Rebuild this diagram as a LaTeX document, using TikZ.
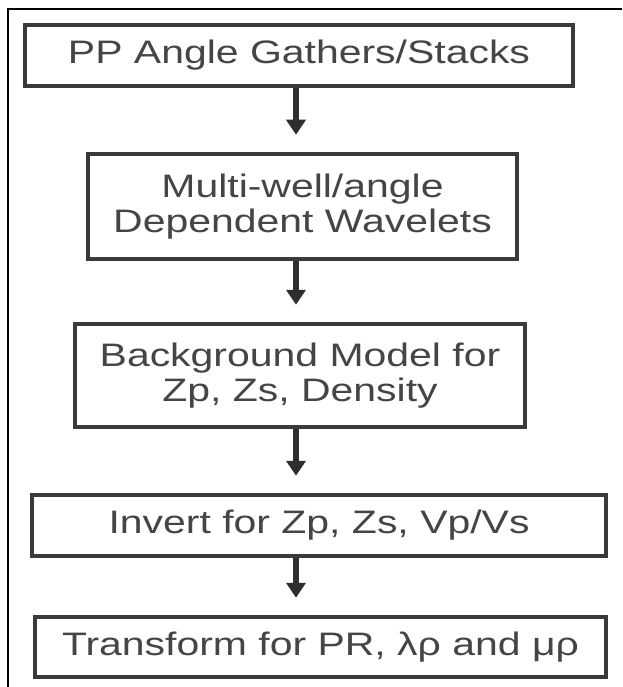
\documentclass[tikz,border=0pt]{standalone}
\usepackage{fontspec}
\setmainfont{Liberation Sans}[FakeStretch=1.26]
\usepackage{tikz}
\usetikzlibrary{arrows.meta,positioning}
\definecolor{boxgray}{HTML}{3A3A3A}
\definecolor{textgray}{HTML}{454545}

\begin{document}
\begin{tikzpicture}[
  x=1pt, y=-1pt,
  stage/.style={draw=boxgray, line width=4.5pt, fill=white, text=textgray, align=center,
    font=\fontsize{32.5}{35}\selectfont, inner sep=0pt},
  flow/.style={draw=boxgray!80!black, line width=6pt, -{Triangle[width=19pt,length=15pt]}, shorten >=17pt}
]
\useasboundingbox (0,0) rectangle (622,687);
% frame: only top and left edges show
\draw[line width=2.8pt] (8,687) |- (622,9);

% processing stages
\node[stage, minimum width=548pt, minimum height=61pt] (gathers) at (299,55.5) {PP Angle Gathers/Stacks};
\node[stage, minimum width=429pt, minimum height=105pt] (wavelets) at (302.5,206.5) {Multi-well/angle\\Dependent Wavelets};
\node[stage, minimum width=450pt, minimum height=103pt] (model) at (300,375.5) {Background Model for\\Zp, Zs, Density};
\node[stage, minimum width=574pt, minimum height=61pt] (invert) at (319,525.5) {Invert for Zp, Zs, Vp/Vs};
\node[stage, minimum width=571pt, minimum height=60pt] (transform) at (320.5,647) {Transform for PR, λρ and μρ};

% arrows all run down one column
\coordinate (spine) at (296,0);
\draw[flow] (gathers.south -| spine) -- (wavelets.north -| spine);
\draw[flow] (wavelets.south -| spine) -- (model.north -| spine);
\draw[flow] (model.south -| spine) -- (invert.north -| spine);
\draw[flow] (invert.south -| spine) -- (transform.north -| spine);
\end{tikzpicture}
\end{document}
